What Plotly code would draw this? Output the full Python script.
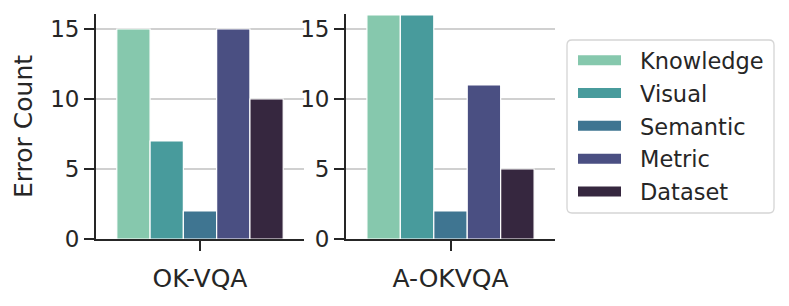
import plotly.graph_objects as go

# ---- data ----
datasets = ["OK-VQA", "A-OKVQA"]
error_types = ["Knowledge", "Visual", "Semantic", "Metric", "Dataset"]
okvqa_counts = [15, 7, 2, 15, 10]
aokvqa_counts = [16, 16, 2, 11, 5]
y_ticks = [0, 5, 10, 15]

colors = ["#86C8AD", "#489B9C", "#3F7591", "#4A4F82", "#36273F"]

W, H = 789, 306
OFF = 8  # page body margin
FONT = "DejaVu Sans"
TXT = "#262626"
FS_TICK = 23
FS_LEG = 22.5
FS_LABEL = 25

fig = go.Figure()
series = [okvqa_counts, aokvqa_counts]
axes = [("x", "y"), ("x2", "y2")]
for d, (ds, vals) in enumerate(zip(datasets, series)):
    for i, et in enumerate(error_types):
        fig.add_trace(go.Bar(
            x=[ds], y=[vals[i]], name=et,
            marker=dict(color=colors[i], line=dict(color="white", width=1.2)),
            xaxis=axes[d][0], yaxis=axes[d][1],
            showlegend=False, offsetgroup=str(i),
        ))

# legend entries (wide patches)
for i, et in enumerate(error_types):
    fig.add_trace(go.Scatter(
        x=[None], y=[None], mode="lines", name=et,
        line=dict(color=colors[i], width=12, dash="0px,6px,43px,300px"),
        legendgroup=et, showlegend=True, xaxis="x", yaxis="y",
    ))

def px_x(p):
    return (p - OFF) / W

def px_y(p):
    return 1 - (p - OFF) / H

ydom = [px_y(239), px_y(14)]
common_y = dict(
    range=[0, 16.07], tickvals=y_ticks, showgrid=True, gridcolor="#d0d0d0", gridwidth=1.5,
    zeroline=False, showline=True, linecolor=TXT, linewidth=1.8,
    ticks="outside", ticklen=10, tickwidth=1.8, tickcolor=TXT,
    tickfont=dict(family=FONT, size=FS_TICK, color=TXT), automargin=False, domain=ydom,
)
common_x = dict(
    type="category", range=[-0.5, 0.5], showgrid=False, zeroline=False,
    showline=True, linecolor=TXT, linewidth=1.8,
    ticks="outside", ticklen=10, tickwidth=1.8, tickcolor=TXT,
    tickfont=dict(family=FONT, size=FS_LABEL, color=TXT), automargin=False,
    ticklabelstandoff=6,
)

# rounded legend frame
x0, x1 = px_x(567), px_x(774)
y0, y1 = px_y(213), px_y(40)
rx, ry = 5 / W, 5 / H
frame = (f"M{x0+rx},{y1} L{x1-rx},{y1} Q{x1},{y1} {x1},{y1-ry} "
         f"L{x1},{y0+ry} Q{x1},{y0} {x1-rx},{y0} L{x0+rx},{y0} "
         f"Q{x0},{y0} {x0},{y0+ry} L{x0},{y1-ry} Q{x0},{y1} {x0+rx},{y1} Z")

fig.update_layout(
    width=W, height=H,
    margin=dict(l=0, r=0, t=0, b=0),
    paper_bgcolor="white", plot_bgcolor="white",
    barmode="group", bargap=0.2, bargroupgap=0,
    font=dict(family=FONT, size=FS_TICK, color=TXT),
    xaxis=dict(common_x, domain=[px_x(96), px_x(304)], anchor="y"),
    xaxis2=dict(common_x, domain=[px_x(346), px_x(555)], anchor="y2"),
    yaxis=dict(common_y, anchor="x",
               title=dict(text="Error Count", font=dict(family=FONT, size=FS_LABEL, color=TXT), standoff=10)),
    yaxis2=dict(common_y, anchor="x2"),
    shapes=[dict(type="path", xref="paper", yref="paper", path=frame,
                 line=dict(color="#d5d5d5", width=1.3), fillcolor="rgba(0,0,0,0)", layer="below")],
    legend=dict(
        x=px_x(567), y=px_y(39), xanchor="left", yanchor="top",
        borderwidth=0, bgcolor="rgba(0,0,0,0)",
        font=dict(family=FONT, size=FS_LEG, color=TXT),
        itemwidth=63, tracegroupgap=0.6, traceorder="grouped",
    ),
)

fig.write_html("out.html")
